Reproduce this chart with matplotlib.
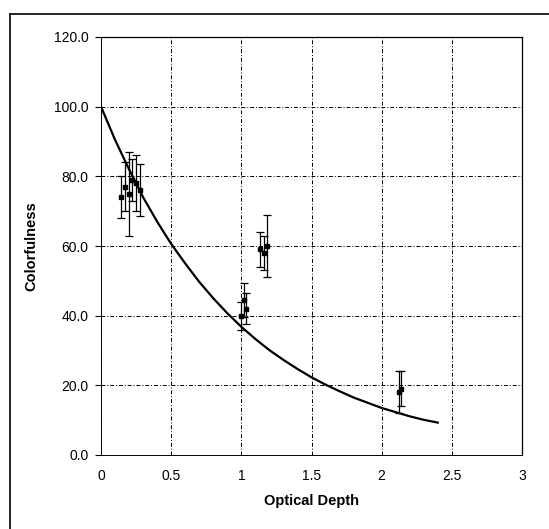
import matplotlib
matplotlib.use("Agg")
import matplotlib.pyplot as plt
from matplotlib.lines import Line2D

# Model curve (colorfulness vs optical depth)
curve_depth = [0.0, 0.1, 0.2, 0.3, 0.4, 0.5, 0.6, 0.7, 0.8, 0.9, 1.0, 1.1,
               1.2, 1.3, 1.4, 1.5, 1.6, 1.7, 1.8, 1.9, 2.0, 2.1, 2.2, 2.3, 2.4]
curve_color = [100.0, 90.5, 82.0, 74.0, 67.0, 60.6, 55.0, 49.7, 45.0, 40.7,
               36.8, 33.3, 30.1, 27.3, 24.7, 22.3, 20.2, 18.3, 16.5, 15.0,
               13.5, 12.3, 11.1, 10.1, 9.3]

# Measured samples with error bars
meas_depth = [0.14, 0.17, 0.20, 0.22, 0.25, 0.28,
              1.00, 1.02, 1.03,
              1.13, 1.16, 1.18,
              2.12, 2.14]
meas_color = [74.0, 77.0, 75.0, 79.0, 78.0, 76.0,
              40.0, 44.5, 42.0,
              59.0, 58.0, 60.0,
              18.0, 19.0]
meas_err = [6.0, 7.0, 12.0, 6.0, 8.0, 7.5,
            4.0, 5.0, 4.5,
            5.0, 5.0, 9.0,
            6.0, 5.0]

x_ticks = [0, 0.5, 1, 1.5, 2, 2.5, 3]
x_tick_labels = ["0", "0.5", "1", "1.5", "2", "2.5", "3"]
y_ticks = [0, 20, 40, 60, 80, 100, 120]
y_tick_labels = ["0.0", "20.0", "40.0", "60.0", "80.0", "100.0", "120.0"]

plt.rcParams["font.family"] = ["Liberation Sans", "DejaVu Sans"]

fig = plt.figure(figsize=(5.49, 5.29), dpi=100)
ax = fig.add_axes([101 / 549, 1 - 455 / 529, 421 / 549, 418 / 529])

ax.set_xlim(0, 3)
ax.set_ylim(0, 120)
ax.set_xticks(x_ticks)
ax.set_xticklabels(x_tick_labels, fontsize=10)
ax.set_yticks(y_ticks)
ax.set_yticklabels(y_tick_labels, fontsize=10)
ax.tick_params(axis="y", length=4, width=0.8, pad=5)
ax.tick_params(axis="x", length=0, pad=10)

ax.grid(True, color="black", linestyle=(0, (4, 2, 1, 2)), linewidth=0.7)
ax.set_axisbelow(True)
for side in ["top", "right"]:
    ax.spines[side].set_linewidth(0.9)
for side in ["left", "bottom"]:
    ax.spines[side].set_linewidth(0.7)
    ax.spines[side].set_linestyle((0, (2, 1)))

ax.plot(curve_depth, curve_color, color="black", linewidth=1.6, zorder=3)

ax.errorbar(meas_depth, meas_color, yerr=meas_err, fmt="s", color="black",
            markersize=3.5, elinewidth=0.9, capsize=3, capthick=0.9, zorder=4)

ax.set_xlabel("Optical Depth", fontsize=10.5, fontweight="bold", labelpad=8)
ax.set_ylabel("Colorfulness", fontsize=10.5, fontweight="bold", labelpad=11)

# Outer chart frame
fig.add_artist(Line2D([10 / 549, 10 / 549], [0, 1 - 14 / 529],
                      transform=fig.transFigure, color="black", linewidth=1.2))
fig.add_artist(Line2D([10 / 549, 1], [1 - 14 / 529, 1 - 14 / 529],
                      transform=fig.transFigure, color="black", linewidth=1.2))

fig.savefig("out.png", dpi=100, facecolor="white")
